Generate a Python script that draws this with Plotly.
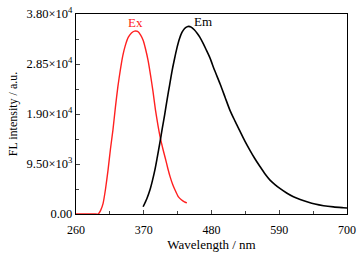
import plotly.graph_objects as go

ex_wl = [260, 270, 280, 290, 296, 300, 304, 308, 312, 316, 320, 324, 328, 332, 336, 340, 345, 350, 355, 360,
         365, 369, 373, 377, 381, 385, 389, 393, 397, 401, 405, 409, 413, 417, 421, 426, 431, 436, 440]
ex_int = [0, 0, 0, 0, 0, 700, 2030, 4800, 8340, 12400, 16000, 20300, 24200, 27400, 30100, 32000, 33600, 34400, 34750, 34700,
          34000, 33000, 31300, 29200, 26400, 23300, 19800, 16900, 14400, 12400, 10600, 8700, 7000, 5600, 4500, 3300, 2700, 2300, 2100]

em_wl = [369, 375, 380, 384, 388, 392, 396, 400, 404, 408, 412, 416, 420, 424, 428, 432, 436, 440, 443, 447,
         452, 457, 461, 466, 471, 477, 485, 494, 502, 510, 518, 526, 534, 542, 550, 559, 567, 575, 583, 591,
         602, 613, 624, 635, 648, 662, 678, 694, 700]
em_int = [1380, 2900, 4550, 6300, 8340, 10800, 13400, 16200, 18900, 21800, 24500, 27200, 29500, 31600, 33300, 34500, 35200, 35550, 35650, 35500,
          35000, 34300, 33600, 32500, 31300, 29800, 27300, 24700, 22200, 19700, 17700, 15800, 13900, 12200, 10600, 8970, 7600, 6440, 5600, 4870,
          4000, 3280, 2750, 2330, 1900, 1580, 1350, 1200, 1150]

x_ticks = [260, 370, 480, 590, 700]
y_ticks = [0, 9500, 19000, 28500, 38000]
y_ticktext = ["0.00", "9.50×10<sup>3</sup>", "1.90×10<sup>4</sup>", "2.85×10<sup>4</sup>", "3.80×10<sup>4</sup>"]

FONT = "'Times New Roman', 'Liberation Serif', Times, serif"

fig = go.Figure()
fig.add_trace(go.Scatter(x=ex_wl, y=ex_int, mode="lines", line=dict(color="#ff2020", width=1.4, shape="spline", smoothing=0.5),
                         name="Ex", showlegend=False))
fig.add_trace(go.Scatter(x=em_wl, y=em_int, mode="lines", line=dict(color="black", width=1.6, shape="spline", smoothing=0.8),
                         name="Em", showlegend=False))

fig.add_annotation(x=357, y=36400, text="Ex", showarrow=False, yanchor="middle",
                   font=dict(family=FONT, size=13, color="#ff2020"))
fig.add_annotation(x=449, y=36500, text="Em", showarrow=False, yanchor="middle", xanchor="left",
                   font=dict(family=FONT, size=13, color="black"))

fig.update_layout(
    width=360, height=259,
    margin=dict(l=76, r=13, t=14, b=45),
    paper_bgcolor="white", plot_bgcolor="white",
    font=dict(family=FONT, size=13, color="black"),
    xaxis=dict(range=[260, 700], tickvals=x_ticks, ticks="inside", ticklen=4, tickwidth=1, automargin=False,
               minor=dict(tickvals=[315, 425, 535, 645], ticks="inside", ticklen=3, tickwidth=1),
               showline=True, linecolor="black", linewidth=1.3, mirror=True, showgrid=False, zeroline=False,
               ticklabelstandoff=4,
               title=dict(text="Wavelength / nm", font=dict(family=FONT, size=13), standoff=4),
               tickfont=dict(family=FONT, size=12)),
    yaxis=dict(range=[0, 38000], tickvals=y_ticks, ticktext=y_ticktext, ticks="inside", ticklen=4, tickwidth=1, automargin=False,
               minor=dict(tickvals=[4750, 14250, 23750, 33250], ticks="inside", ticklen=3, tickwidth=1),
               showline=True, linecolor="black", linewidth=1.3, mirror=True, showgrid=False, zeroline=False,
               title=dict(text="FL intensity / a.u.", font=dict(family=FONT, size=12), standoff=6),
               tickfont=dict(family=FONT, size=12.5)),
)

fig.write_html("out.html", config={"displayModeBar": False},
               post_script="document.body.style.margin='0';document.body.style.padding='0';")
